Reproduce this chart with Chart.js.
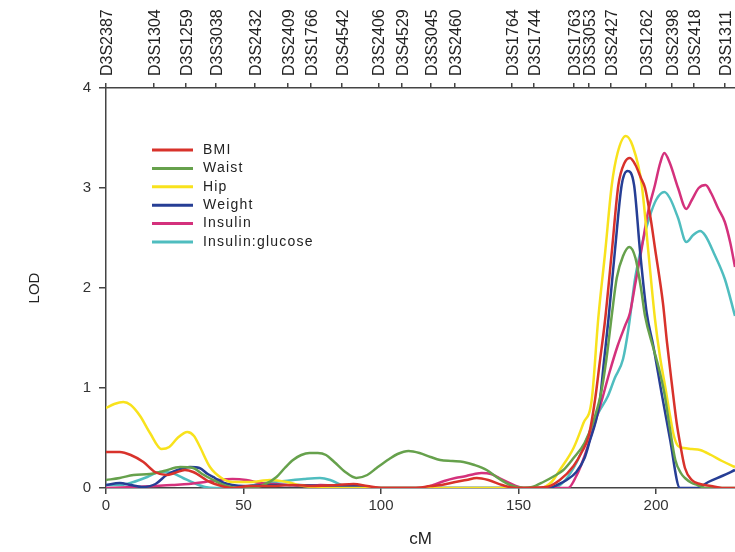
<!DOCTYPE html>
<html>
<head>
<meta charset="utf-8">
<script src="https://cdn.jsdelivr.net/npm/chart.js@4"></script>
<style>
  html, body { margin: 0; padding: 0; background: #fff; }
  #wrap { width: 735px; height: 552px; }
</style>
</head>
<body>
<div id="wrap"><canvas id="lod"></canvas></div>
<script>
// marker positions along chromosome 3 (cM) and their names
var markerCM = [0, 17.5, 29, 40, 54, 66, 74.4, 85.7, 99, 107.5, 118, 126.7, 147.5, 155.4, 170, 175.7, 183.5, 196.4, 205.7, 213.6, 225];
var markerNames = ['D3S2387', 'D3S1304', 'D3S1259', 'D3S3038', 'D3S2432', 'D3S2409', 'D3S1766', 'D3S4542', 'D3S2406', 'D3S4529',
  'D3S3045', 'D3S2460', 'D3S1764', 'D3S1744', 'D3S1763', 'D3S3053', 'D3S2427', 'D3S1262', 'D3S2398', 'D3S2418', 'D3S1311'];

// BMI
var bmiCM  = [0, 5, 9, 13.6, 17.8, 22, 25, 28.7, 31.7, 37.8, 42, 46, 52, 60, 68, 76, 84, 90, 95, 100, 112, 118, 122, 127, 131, 134.8, 139, 144, 149, 160, 165, 170, 173, 175.5, 177.8, 179.5, 181.5, 183.9, 186.3, 188.5, 190.5, 192.5, 194.5, 196, 198, 199.6, 202.5, 204, 205.7, 207.5, 208.7, 210.5, 213, 216, 220, 224, 228.7];
var bmiLOD = [0.36, 0.36, 0.33, 0.26, 0.16, 0.13, 0.15, 0.18, 0.16, 0.06, 0.02, 0, 0.02, 0.02, 0.03, 0.02, 0.03, 0.04, 0.02, 0, 0, 0.02, 0.03, 0.06, 0.08, 0.1, 0.08, 0.03, 0, 0.01, 0.08, 0.22, 0.36, 0.52, 0.88, 1.25, 1.69, 2.36, 3.03, 3.25, 3.3, 3.23, 3.1, 3.0, 2.7, 2.4, 1.85, 1.45, 1.05, 0.65, 0.45, 0.2, 0.08, 0.04, 0.02, 0, 0];

// Waist
var waistCM  = [0, 5, 10, 16, 21, 27, 31.7, 35, 39, 44, 48, 53, 58, 62, 65, 68, 71, 74, 77, 80, 83, 87, 91, 95, 98.4, 103, 106, 110, 114, 118, 121.5, 126, 130, 134, 138.4, 142, 146.9, 151.7, 155, 159, 163, 166.3, 170, 174, 177, 180, 182, 184, 185.7, 188, 190.3, 192.5, 194.5, 196, 199, 201, 203, 205, 207, 209, 210.5, 213, 215, 218, 228.7];
var waistLOD = [0.08, 0.1, 0.13, 0.14, 0.17, 0.21, 0.2, 0.14, 0.08, 0.02, 0, 0, 0.04, 0.11, 0.2, 0.28, 0.33, 0.35, 0.35, 0.33, 0.26, 0.16, 0.1, 0.13, 0.2, 0.29, 0.34, 0.37, 0.35, 0.31, 0.28, 0.27, 0.26, 0.23, 0.18, 0.11, 0.03, 0, 0.01, 0.06, 0.12, 0.18, 0.3, 0.45, 0.65, 0.95, 1.3, 1.75, 2.1, 2.32, 2.41, 2.3, 2.0, 1.72, 1.4, 1.2, 0.95, 0.6, 0.28, 0.15, 0.1, 0.05, 0.03, 0, 0];

// Hip
var hipCM  = [0, 3, 6.3, 9, 12.4, 16, 20.2, 23, 26, 29.6, 32, 34, 37.8, 42, 46, 52, 56, 59.6, 65.7, 70, 75, 80, 158, 162, 165, 170, 173.6, 176.6, 179, 181.5, 183.9, 186, 189, 191.5, 194.8, 197.2, 199.6, 201.5, 203.4, 205.1, 206.5, 208, 210, 213, 216, 220, 224, 228.7];
var hipLOD = [0.8, 0.84, 0.86, 0.83, 0.72, 0.55, 0.39, 0.41, 0.5, 0.56, 0.52, 0.42, 0.21, 0.1, 0.06, 0.06, 0.07, 0.08, 0.06, 0.03, 0.01, 0, 0, 0.06, 0.18, 0.4, 0.65, 0.88, 1.7, 2.36, 3.03, 3.35, 3.52, 3.42, 3.03, 2.36, 1.69, 1.3, 1.0, 0.72, 0.52, 0.42, 0.4, 0.39, 0.38, 0.33, 0.27, 0.21];

// Weight
var weightCM  = [0, 5, 9, 13, 18, 22, 26, 30.5, 34, 37, 39.6, 43, 46, 50, 60, 70, 80, 90, 100, 161, 164, 167.5, 171, 174, 176, 178, 179.6, 181, 182.7, 185, 187.5, 189.6, 192, 194.2, 196.6, 199, 202, 205, 208.7, 215, 219, 224, 228.7];
var weightLOD = [0.03, 0.05, 0.03, 0.01, 0.04, 0.13, 0.18, 0.21, 0.2, 0.14, 0.1, 0.05, 0.03, 0.02, 0.03, 0.03, 0.02, 0.02, 0, 0, 0.03, 0.08, 0.16, 0.3, 0.48, 0.66, 0.88, 1.25, 1.69, 2.36, 3.03, 3.17, 3.03, 2.36, 1.75, 1.42, 0.95, 0.5, 0, 0, 0.06, 0.12, 0.18];

// Insulin
var insulinCM  = [0, 10, 18, 24, 30, 36, 41, 46, 51, 56, 61, 66, 72, 78, 84, 90, 115, 119, 123, 127, 131, 134, 136.6, 140, 143, 146, 149, 152, 168, 171, 174, 177, 180, 183, 186, 188.7, 190.5, 192.5, 194.8, 197, 199.6, 201.5, 203, 205, 208, 211, 213, 215.5, 218, 220, 222.5, 225, 227, 228.7];
var insulinLOD = [0, 0.01, 0.02, 0.03, 0.04, 0.06, 0.08, 0.09, 0.08, 0.05, 0.04, 0.03, 0.02, 0.03, 0.02, 0, 0, 0.03, 0.07, 0.1, 0.12, 0.14, 0.15, 0.14, 0.1, 0.06, 0.02, 0, 0, 0.12, 0.32, 0.58, 0.85, 1.15, 1.42, 1.62, 1.75, 2.05, 2.4, 2.75, 3.03, 3.25, 3.35, 3.25, 3.0, 2.79, 2.88, 3.0, 3.03, 2.95, 2.8, 2.66, 2.45, 2.21];

// Insulin:glucose
var ratioCM  = [0, 5, 10, 15, 19.6, 24, 28, 32, 36, 40, 48, 52, 58, 65, 72, 77.8, 81.5, 87.5, 92, 163, 167, 171, 175, 179, 182.5, 185, 188, 190, 192.4, 195, 197.5, 200, 203, 205, 208, 211, 213.5, 216, 218, 221, 225, 228.7];
var ratioLOD = [0.03, 0.03, 0.06, 0.11, 0.16, 0.15, 0.1, 0.05, 0.01, 0, 0, 0.02, 0.05, 0.07, 0.09, 0.1, 0.08, 0.01, 0, 0, 0.08, 0.25, 0.5, 0.75, 0.92, 1.1, 1.29, 1.6, 2.1, 2.45, 2.7, 2.88, 2.96, 2.9, 2.7, 2.46, 2.53, 2.57, 2.52, 2.35, 2.09, 1.72];

function pts(xs, ys) {
  return xs.map(function (x, i) { return { x: x, y: ys[i] }; });
}

function series(label, xs, ys, color) {
  return {
    label: label,
    data: pts(xs, ys),
    borderColor: color,
    backgroundColor: color,
    borderWidth: 2.5,
    pointRadius: 0,
    fill: false,
    cubicInterpolationMode: 'monotone'
  };
}

// legend drawn inside the plot, top left
var insetLegend = {
  id: 'insetLegend',
  afterDatasetsDraw: function (chart) {
    var ctx = chart.ctx;
    var left = chart.chartArea.left + 46;
    chart.data.datasets.forEach(function (ds, i) {
      var y = 150 + i * 18.4;
      ctx.save();
      ctx.strokeStyle = ds.borderColor;
      ctx.lineWidth = 3;
      ctx.beginPath();
      ctx.moveTo(left, y);
      ctx.lineTo(left + 41, y);
      ctx.stroke();
      ctx.fillStyle = '#222';
      ctx.font = '14px "Liberation Sans", Arial, sans-serif';
      ctx.letterSpacing = '1.2px';
      ctx.textBaseline = 'middle';
      ctx.fillText(ds.label, left + 51, y);
      ctx.restore();
    });
  }
};

Chart.defaults.font.family = '"Liberation Sans", Arial, sans-serif';

var ctx = document.getElementById('lod').getContext('2d');
var chart = new Chart(ctx, {
  type: 'line',
  data: {
    datasets: [
      series('BMI', bmiCM, bmiLOD, '#d8322b'),
      series('Waist', waistCM, waistLOD, '#66a14c'),
      series('Hip', hipCM, hipLOD, '#f8e21c'),
      series('Weight', weightCM, weightLOD, '#263e95'),
      series('Insulin', insulinCM, insulinLOD, '#d4317c'),
      series('Insulin:glucose', ratioCM, ratioLOD, '#4fbdbf')
    ]
  },
  options: {
    responsive: true,
    maintainAspectRatio: false,
    animation: false,
    layout: { padding: 0 },
    plugins: {
      legend: { display: false },
      tooltip: { enabled: false }
    },
    scales: {
      x: {
        type: 'linear',
        position: 'bottom',
        min: 0,
        max: 228.7,
        afterFit: function (s) { s.height = 64; },
        border: { color: '#444', width: 1.5 },
        grid: { drawOnChartArea: false, tickLength: 6, color: '#444', lineWidth: 1.5 },
        ticks: { stepSize: 50, includeBounds: false, padding: 3, maxRotation: 0, color: '#333', font: { size: 15 } },
        title: { display: true, text: 'cM', color: '#222', font: { size: 17 }, padding: { top: 0, bottom: 2 } }
      },
      x2: {
        type: 'linear',
        position: 'top',
        min: 0,
        max: 228.7,
        afterFit: function (s) { s.height = 88; },
        afterBuildTicks: function (s) { s.ticks = markerCM.map(function (v) { return { value: v }; }); },
        border: { color: '#444', width: 1.5 },
        grid: { drawOnChartArea: false, tickLength: 5, color: '#444', lineWidth: 1.5 },
        ticks: {
          autoSkip: false,
          minRotation: 90,
          maxRotation: 90,
          padding: 7,
          labelOffset: 21,
          color: '#222',
          font: { size: 16 },
          callback: function (v, i) { return markerNames[i]; }
        }
      },
      y: {
        min: 0,
        max: 4,
        afterFit: function (s) { s.width = 106; },
        border: { color: '#444', width: 1.5 },
        grid: { drawOnChartArea: false, tickLength: 7, color: '#444', lineWidth: 1.5 },
        ticks: { stepSize: 1, padding: 8, color: '#333', font: { size: 15 } },
        title: { display: true, text: 'LOD', color: '#222', font: { size: 15 }, padding: { top: 26, bottom: 0 } }
      }
    }
  },
  plugins: [insetLegend]
});
</script>
</body>
</html>
